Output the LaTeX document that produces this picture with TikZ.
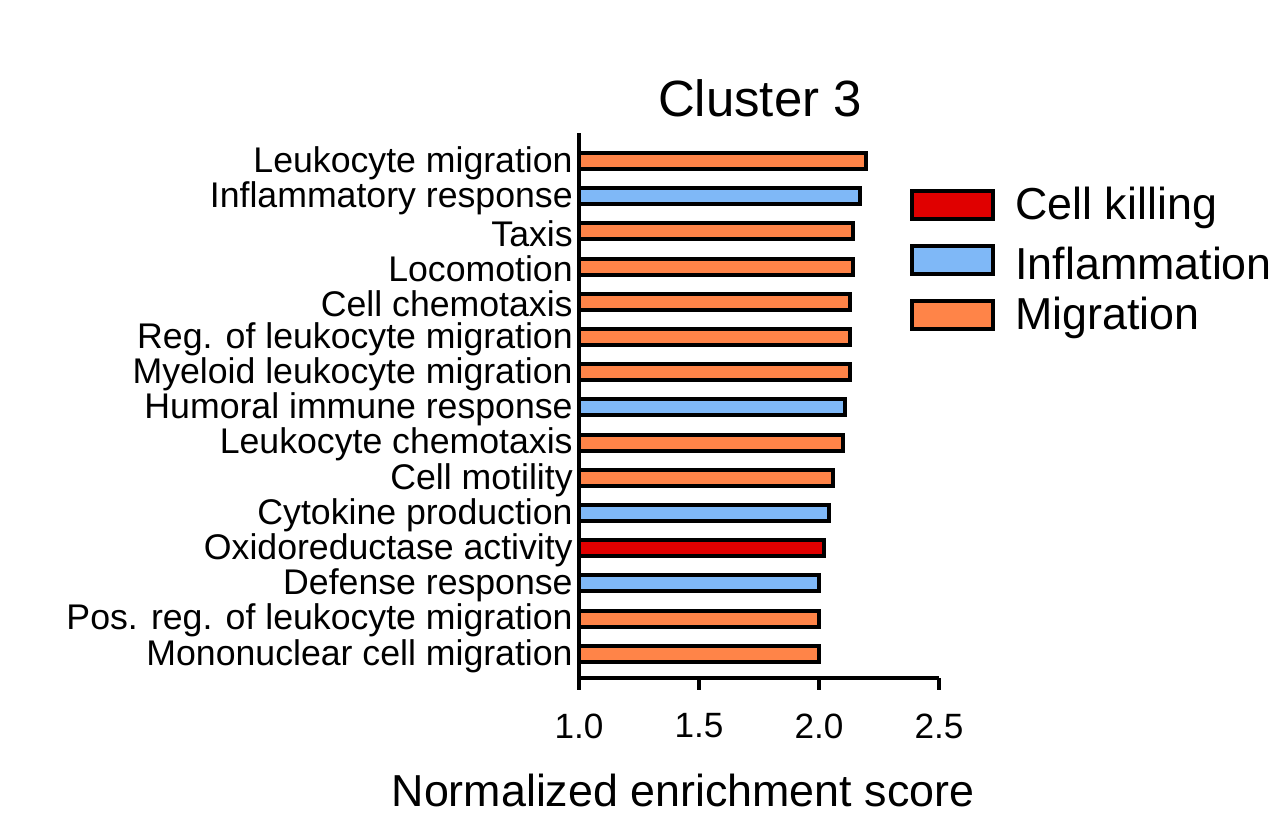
\documentclass[tikz,border=0pt]{standalone}
\usepackage{fontspec}
\setmainfont{Liberation Sans}
\usepackage{xcolor}
\usetikzlibrary{positioning}
\definecolor{killc}{HTML}{E00000}
\definecolor{inflc}{HTML}{7FB8F7}
\definecolor{migc}{HTML}{FF8448}
\begin{document}
\begin{tikzpicture}[x=0.02cm,y=-0.02cm,
    bar/.style={draw=black, line width=2.2pt},
    lab/.style={font=\fontsize{20.3}{20.3}\selectfont, anchor=east, inner sep=0pt},
    tick/.style={font=\fontsize{20}{20}\selectfont},
    leg/.style={font=\fontsize{25.5}{25.5}\selectfont, anchor=west, inner sep=0pt}
]
\useasboundingbox (0,0) rectangle (1282,825);
% title
\node[font=\fontsize{29}{29}\selectfont] (title) at (760,98) {Cluster 3};
% bars
\foreach \name/\val/\col [count=\i from 0] in {
    Leukocyte migration/2.196/migc,
    Inflammatory response/2.17/inflc,
    Taxis/2.14/migc,
    Locomotion/2.14/migc,
    Cell chemotaxis/2.13/migc,
    Reg. of leukocyte migration/2.13/migc,
    Myeloid leukocyte migration/2.13/migc,
    Humoral immune response/2.11/inflc,
    Leukocyte chemotaxis/2.10/migc,
    Cell motility/2.06/migc,
    Cytokine production/2.04/inflc,
    Oxidoreductase activity/2.02/killc,
    Defense response/2.0/inflc,
    Pos. reg. of leukocyte migration/2.0/migc,
    Mononuclear cell migration/2.0/migc}{
  \pgfmathsetmacro{\yy}{161+35.2*\i}
  \pgfmathsetmacro{\xx}{579+240*(\val-1)}
  \draw[bar, fill=\col] (579,\yy-8) rectangle (\xx,\yy+8);
  \node[lab] (l\i) at (573,\yy+2) {\name};
}
% axes
\draw[line width=2pt] (579,133) -- (579,678) -- (939,678);
\foreach \v [count=\j from 0] in {1.0,1.5,2.0,2.5}{
  \draw[line width=2pt] (579+120*\j,678) -- (579+120*\j,690);
  \node[tick] (t\j) at (579+120*\j,726) {\v};
}
\node[font=\fontsize{25.5}{25.5}\selectfont] (xlab) at (683,790) {Normalized enrichment score};
% legend
\foreach \txt/\col [count=\k from 0] in {Cell killing/killc, Inflammation/inflc, Migration/migc}{
  \draw[bar, line width=2.6pt, fill=\col] (912,191+55*\k) rectangle (993,219+55*\k);
  \node[leg] (g\k) at (1015,208+55*\k) {\txt};
}
\end{tikzpicture}
\end{document}
